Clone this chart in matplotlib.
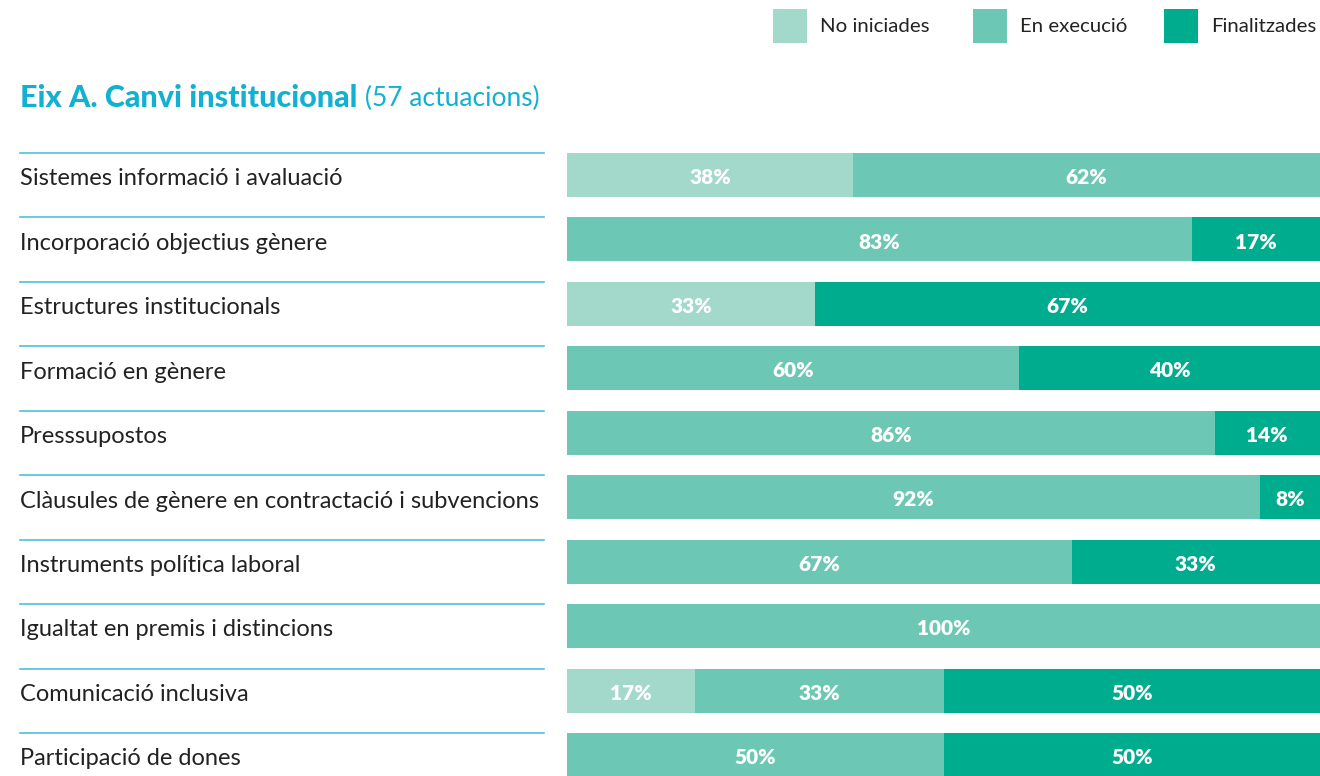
import numpy as np
import matplotlib.pyplot as plt
from matplotlib.patches import Rectangle
from matplotlib.transforms import blended_transform_factory

# Data
categories = ["Sistemes informació i avaluació", "Incorporació objectius gènere",
              "Estructures institucionals", "Formació en gènere", "Presssupostos",
              "Clàusules de gènere en contractació i subvencions",
              "Instruments política laboral", "Igualtat en premis i distincions",
              "Comunicació inclusiva", "Participació de dones"]
no_iniciades = [38, 0, 33, 0, 0, 0, 0, 0, 17, 0]
en_execucio = [62, 83, 0, 60, 86, 92, 67, 100, 33, 50]
finalitzades = [0, 17, 67, 40, 14, 8, 33, 0, 50, 50]
series_names = ["No iniciades", "En execució", "Finalitzades"]

colors = ["#a2d9cb", "#6cc7b4", "#00ac8e"]
blue = "#12b0d1"
W, H = 1320, 776

plt.rcParams['font.family'] = ['Lato', 'DejaVu Sans']
fig = plt.figure(figsize=(W / 100, H / 100), dpi=100)

# bars axes: from x=567px to right edge, y from 140px to bottom
ax = fig.add_axes([567 / W, 0, 1 - 567 / W, (H - 140) / H])
ax.set_xlim(0, 100)
ax.set_ylim(9.326, -0.543)
ax.axis("off")

y = np.arange(len(categories))
bar_h = 0.683
left = np.zeros(len(categories))
for vals, col in zip([no_iniciades, en_execucio, finalitzades], colors):
    vals = np.array(vals, dtype=float)
    ax.barh(y, vals, left=left, height=bar_h, color=col, linewidth=0)
    for yi, (l, v) in enumerate(zip(left, vals)):
        if v > 0:
            ax.text(l + v / 2, yi + 0.04, f"{int(v)}%", ha="center", va="center",
                    color="white", fontsize=15, fontweight="heavy")
    left += vals

# category labels and separator lines on the left
tr = blended_transform_factory(fig.transFigure, ax.transData)
for yi, cat in enumerate(categories):
    ax.plot([20 / W, 544 / W], [yi - bar_h / 2, yi - bar_h / 2], transform=tr,
            color="#4ec1dc", lw=1.2, clip_on=False)
    ax.text(20 / W, yi + 0.06, cat, transform=tr, ha="left", va="center",
            fontsize=17, color="#222222")

# title
t = fig.text(20 / W, 1 - 98 / H, "Eix A. Canvi institucional", fontsize=22,
             fontweight="black", color=blue, va="center", ha="left")
fig.canvas.draw()
bb = t.get_window_extent()
fig.text((bb.x1 + 8) / W, 1 - 98 / H, "(57 actuacions)", fontsize=19,
         fontweight="normal", color=blue, va="center", ha="left")

# legend drawn by hand
sq_x = [773, 973, 1164]
for x0, name, col in zip(sq_x, series_names, colors):
    fig.patches.append(Rectangle((x0 / W, 1 - 43 / H), 34 / W, 34 / H,
                                 transform=fig.transFigure, color=col, lw=0))
    fig.text((x0 + 47) / W, 1 - 26 / H, name, fontsize=14.7, color="#222222",
             va="center", ha="left")

fig.savefig("out.png", dpi=100)
